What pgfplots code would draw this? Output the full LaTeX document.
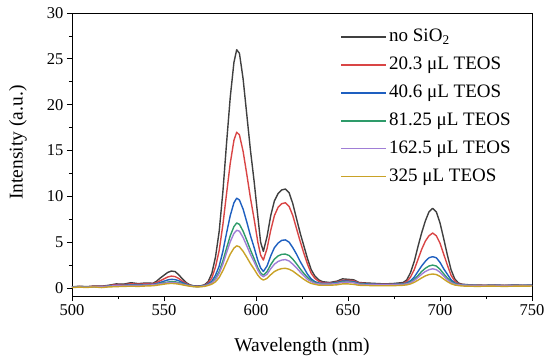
\documentclass[border=0pt]{standalone}
\usepackage{pgfplots}
\usepackage{pgfplotstable}
\pgfplotsset{compat=1.18}
\usepackage{fontspec}
\setmainfont{Liberation Serif}
\definecolor{cA}{HTML}{404040}
\definecolor{cB}{HTML}{D94545}
\definecolor{cC}{HTML}{1E5FC0}
\definecolor{cD}{HTML}{2E9B6A}
\definecolor{cE}{HTML}{A07ED6}
\definecolor{cF}{HTML}{C9A227}
\pgfplotstableread{
x a b c d e f
500 0.12 0.10 0.10 0.08 0.08 0.05
504 0.20 0.16 0.14 0.12 0.12 0.10
508 0.15 0.12 0.10 0.10 0.10 0.06
512 0.22 0.20 0.16 0.14 0.14 0.12
516 0.20 0.18 0.15 0.12 0.12 0.05
520 0.30 0.26 0.22 0.18 0.20 0.12
524 0.45 0.38 0.30 0.25 0.26 0.15
528 0.42 0.36 0.30 0.26 0.25 0.18
532 0.58 0.46 0.36 0.30 0.30 0.20
536 0.48 0.42 0.33 0.28 0.28 0.18
540 0.55 0.46 0.38 0.32 0.32 0.22
544 0.52 0.48 0.40 0.34 0.34 0.25
546 0.75 0.60 0.48 0.42 0.40 0.30
548 1.10 0.80 0.60 0.50 0.45 0.36
550 1.40 1.00 0.75 0.58 0.52 0.42
552 1.70 1.20 0.88 0.65 0.58 0.48
554 1.85 1.30 0.95 0.70 0.60 0.50
556 1.80 1.25 0.92 0.68 0.58 0.48
558 1.45 1.05 0.80 0.60 0.52 0.42
560 1.00 0.75 0.60 0.48 0.42 0.35
562 0.60 0.50 0.42 0.36 0.33 0.27
564 0.35 0.30 0.28 0.25 0.24 0.20
566 0.25 0.22 0.20 0.18 0.18 0.15
568 0.22 0.20 0.18 0.16 0.15 0.12
570 0.25 0.22 0.20 0.18 0.17 0.14
572 0.35 0.30 0.28 0.25 0.24 0.18
574 0.70 0.55 0.45 0.38 0.35 0.28
576 1.60 1.10 0.75 0.60 0.55 0.42
578 3.40 2.30 1.40 1.05 0.92 0.68
580 6.20 4.10 2.40 1.80 1.60 1.15
582 10.5 6.90 4.00 2.95 2.60 1.90
584 15.8 10.3 6.00 4.35 3.85 2.80
586 20.8 13.6 7.90 5.70 5.05 3.70
588 24.6 16.1 9.30 6.70 5.95 4.35
589.5 26.0 17.0 9.80 7.10 6.30 4.60
591 25.6 16.7 9.60 6.95 6.20 4.50
593 22.8 14.9 8.60 6.20 5.50 4.00
595 18.9 12.4 7.20 5.20 4.60 3.35
597 15.0 9.80 5.70 4.15 3.65 2.65
599 11.6 7.50 4.40 3.20 2.85 2.05
601 7.80 5.00 3.00 2.20 1.95 1.40
602.5 5.00 3.60 2.20 1.65 1.45 1.05
604 4.00 3.05 1.80 1.40 1.23 0.87
606 5.60 4.30 2.40 1.80 1.50 1.05
608 7.90 6.30 3.50 2.55 2.10 1.45
610 9.50 7.90 4.40 3.15 2.60 1.80
612 10.3 8.80 4.90 3.50 2.90 2.00
614 10.7 9.20 5.20 3.68 3.05 2.12
616 10.8 9.30 5.25 3.70 3.10 2.15
618 10.4 8.90 5.00 3.55 2.95 2.05
620 9.20 7.90 4.40 3.15 2.60 1.85
622 7.60 6.50 3.70 2.65 2.20 1.55
624 6.00 5.10 2.90 2.10 1.75 1.25
626 4.60 3.80 2.20 1.60 1.35 0.95
628 3.20 2.60 1.50 1.15 0.95 0.70
630 2.00 1.60 1.00 0.80 0.70 0.50
632 1.30 1.05 0.70 0.60 0.52 0.40
634 0.90 0.75 0.55 0.50 0.45 0.32
636 0.70 0.60 0.50 0.45 0.42 0.30
640 0.60 0.55 0.50 0.45 0.42 0.30
644 0.75 0.65 0.60 0.55 0.50 0.35
647 1.00 0.85 0.75 0.68 0.62 0.45
650 0.95 0.85 0.75 0.70 0.65 0.45
653 0.90 0.80 0.70 0.62 0.58 0.40
656 0.60 0.55 0.50 0.45 0.42 0.30
660 0.55 0.50 0.45 0.40 0.38 0.28
665 0.50 0.45 0.42 0.38 0.36 0.25
670 0.45 0.42 0.40 0.36 0.35 0.25
675 0.50 0.45 0.42 0.38 0.36 0.26
680 0.60 0.50 0.45 0.42 0.40 0.30
682 0.90 0.70 0.55 0.50 0.45 0.35
684 1.70 1.20 0.80 0.65 0.58 0.45
686 2.90 2.00 1.20 0.95 0.82 0.62
688 4.50 3.10 1.80 1.35 1.15 0.85
690 6.00 4.20 2.40 1.80 1.50 1.10
692 7.30 5.10 2.90 2.15 1.80 1.32
694 8.30 5.70 3.30 2.40 2.00 1.47
696 8.70 6.00 3.42 2.50 2.10 1.53
698 8.30 5.70 3.30 2.40 2.00 1.47
700 7.10 4.90 2.80 2.05 1.72 1.27
702 5.40 3.70 2.10 1.55 1.30 0.98
704 3.60 2.50 1.50 1.10 0.92 0.70
706 2.00 1.40 0.90 0.70 0.60 0.47
708 1.00 0.75 0.55 0.48 0.42 0.33
710 0.55 0.45 0.40 0.38 0.35 0.27
712 0.42 0.38 0.35 0.33 0.32 0.22
716 0.35 0.32 0.30 0.30 0.30 0.20
720 0.32 0.30 0.28 0.28 0.28 0.18
725 0.30 0.30 0.28 0.27 0.27 0.20
730 0.34 0.32 0.30 0.30 0.30 0.20
735 0.28 0.28 0.27 0.26 0.26 0.18
740 0.32 0.30 0.30 0.28 0.28 0.20
745 0.30 0.30 0.28 0.28 0.28 0.20
750 0.32 0.30 0.30 0.30 0.30 0.22
}\datatable
\begin{document}
\begin{tikzpicture}
\begin{axis}[
  name=ax,
  scale only axis,
  width=460pt, height=283pt,
  xmin=500, xmax=750, ymin=-0.87, ymax=30,
  xtick={500,550,...,750}, ytick={0,5,...,30},
  minor x tick num=1, minor y tick num=1,
  tick align=outside, xtick pos=bottom, ytick pos=left,
  major tick length=5pt, minor tick length=3pt,
  every tick/.style={black, line width=0.8pt},
  axis line style={black, line width=0.9pt},
  /pgf/number format/assume math mode=true,
  ticklabel style={font=\fontsize{16.5}{18}\selectfont},
  xlabel={Wavelength (nm)}, ylabel={Intensity (a.u.)},
  every axis x label/.style={at={(axis description cs:0.5,-0.179)}, anchor=center, font=\fontsize{19.5}{22}\selectfont},
  every axis y label/.style={at={(axis description cs:-0.1174,0.542)}, anchor=center, rotate=90, font=\fontsize{19.5}{22}\selectfont},
  legend cell align=left,
  legend image code/.code={\draw[#1, line width=1.8pt] (0pt,0pt) -- (45pt,0pt);},
  legend style={at={(axis description cs:0.583,0.95)}, anchor=north west, draw=none, fill=none,
    inner sep=0pt, row sep=8.8pt, font=\fontsize{19}{21}\selectfont,
    nodes={inner sep=2pt, text depth=0.25em}},
  every axis plot/.append style={line width=1.4pt, line join=round},
]
\addplot[cA] table[x=x,y=a]{\datatable};
\addplot[cB] table[x=x,y=b]{\datatable};
\addplot[cC] table[x=x,y=c]{\datatable};
\addplot[cD] table[x=x,y=d]{\datatable};
\addplot[cE] table[x=x,y=e]{\datatable};
\addplot[cF] table[x=x,y=f]{\datatable};
\legend{no SiO\textsubscript{2}, 20.3 μL TEOS, 40.6 μL TEOS, 81.25 μL TEOS, 162.5 μL TEOS, 325 μL TEOS}
\end{axis}
\pgfresetboundingbox
\path ([xshift=-72pt,yshift=-66pt]ax.south west) rectangle ([xshift=18pt,yshift=13pt]ax.north east);
\end{tikzpicture}
\end{document}
